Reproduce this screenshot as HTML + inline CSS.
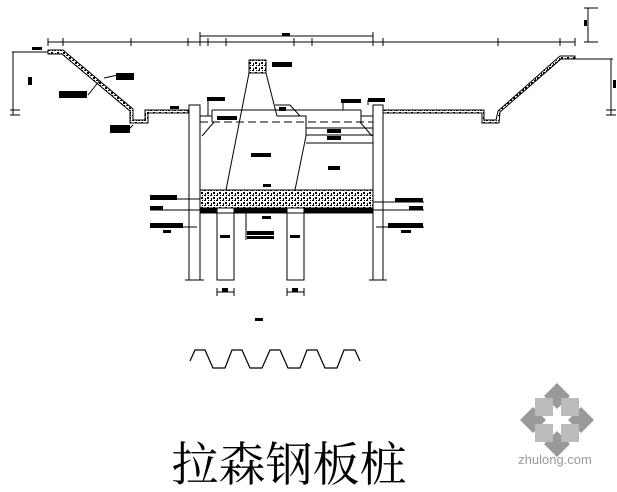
<!DOCTYPE html>
<html><head><meta charset="utf-8"><style>
html,body{margin:0;padding:0;background:#fff;width:617px;height:492px;overflow:hidden}
svg{display:block}
</style></head><body>
<svg width="617" height="492" viewBox="0 0 617 492" xmlns="http://www.w3.org/2000/svg">
<defs>
<pattern id="gr" width="6" height="5" patternUnits="userSpaceOnUse">
<rect width="6" height="5" fill="#fff"/>
<rect x="0" y="0" width="2" height="1" fill="#000"/><rect x="3" y="2" width="2" height="2" fill="#000"/><rect x="1" y="3" width="1" height="2" fill="#000"/><rect x="4" y="0" width="1" height="1" fill="#000"/>
</pattern>
</defs>
<g stroke="#000" stroke-width="1" fill="none">
<line x1="48" y1="42" x2="575" y2="42"/>
<line x1="200" y1="36" x2="373" y2="36"/>
<g>
<line x1="48" y1="38" x2="48" y2="46"/><line x1="63" y1="38" x2="63" y2="46"/><line x1="131" y1="38" x2="131" y2="46"/><line x1="188" y1="38" x2="188" y2="46"/><line x1="200" y1="32" x2="200" y2="46"/><line x1="208" y1="38" x2="208" y2="46"/><line x1="226" y1="38" x2="226" y2="46"/><line x1="294" y1="38" x2="294" y2="46"/><line x1="312" y1="38" x2="312" y2="46"/><line x1="373" y1="32" x2="373" y2="46"/><line x1="383" y1="38" x2="383" y2="46"/><line x1="498" y1="38" x2="498" y2="46"/><line x1="560" y1="38" x2="560" y2="46"/><line x1="575" y1="38" x2="575" y2="46"/>
</g>
<line x1="588" y1="8" x2="588" y2="42"/><line x1="584" y1="8" x2="598" y2="8"/><line x1="584" y1="42" x2="598" y2="42"/>
<line x1="12" y1="52" x2="63" y2="52"/>
<line x1="13" y1="52" x2="13" y2="115"/><line x1="10" y1="110" x2="20" y2="110"/><line x1="10" y1="115" x2="20" y2="115"/>
<polygon points="48,50 63,50 133,109 133,120 145,120 145,110 188,110 188,113 148,113 148,123 130,123 130,111 62,54 48,54" fill="url(#gr)"/>
<polygon points="383,110 484,110 484,120 496,120 498,111 560,56 575,56 575,59 561,59 500,112 499,123 482,123 482,113 383,113" fill="url(#gr)"/>
<line x1="560" y1="59" x2="613" y2="59"/>
<line x1="611" y1="59" x2="611" y2="115"/><line x1="606" y1="110" x2="616" y2="110"/><line x1="606" y1="115" x2="616" y2="115"/>
<rect x="189" y="105" width="11" height="175"/>
<rect x="373" y="105" width="10" height="175"/>
<line x1="185" y1="280" x2="204" y2="280"/><line x1="369" y1="280" x2="387" y2="280"/>
<line x1="200" y1="116" x2="212" y2="116"/><line x1="361" y1="116" x2="373" y2="116"/>
<line x1="212" y1="110" x2="361" y2="110"/><line x1="212" y1="110" x2="212" y2="122"/><line x1="361" y1="110" x2="361" y2="122"/>
<line x1="200" y1="122" x2="373" y2="122" stroke-dasharray="8,4"/>
<line x1="214" y1="122" x2="202" y2="136"/><line x1="360" y1="122" x2="372" y2="136"/>
<line x1="306" y1="128" x2="373" y2="128"/><line x1="306" y1="135" x2="373" y2="135"/><line x1="306" y1="143" x2="373" y2="143"/>
<rect x="249" y="60" width="17" height="13" fill="url(#gr)"/>
<line x1="249" y1="73" x2="226" y2="190"/>
<line x1="266" y1="73" x2="277" y2="116"/>
<polyline points="275,105 290,105 300,116"/>
<polyline points="277,116 306,116 306,136 295,190"/>
<rect x="200" y="190" width="173" height="18" fill="url(#gr)"/>
<rect x="200" y="208" width="173" height="5" fill="#000"/>
<rect x="217" y="208" width="17" height="72" fill="#fff"/>
<rect x="287" y="208" width="17" height="72" fill="#fff"/>
<line x1="217" y1="213" x2="234" y2="213"/><line x1="287" y1="213" x2="304" y2="213"/>
<line x1="217" y1="292" x2="234" y2="292"/><line x1="287" y1="292" x2="304" y2="292"/>
<line x1="217" y1="288" x2="217" y2="296"/><line x1="234" y1="288" x2="234" y2="296"/><line x1="287" y1="288" x2="287" y2="296"/><line x1="304" y1="288" x2="304" y2="296"/>
<line x1="150" y1="199" x2="200" y2="199"/><line x1="150" y1="210" x2="200" y2="210"/><line x1="150" y1="227" x2="197" y2="227"/>
<line x1="373" y1="202" x2="424" y2="202"/><line x1="373" y1="210" x2="424" y2="210"/><line x1="376" y1="227" x2="424" y2="227"/>
<line x1="246" y1="213" x2="246" y2="240"/>
<line x1="88" y1="95" x2="100" y2="80"/><line x1="104" y1="78" x2="118" y2="75"/>
<line x1="133" y1="125" x2="128" y2="130"/>
<line x1="208" y1="116" x2="208" y2="100"/><line x1="343" y1="110" x2="343" y2="102"/><line x1="368" y1="105" x2="368" y2="100"/>
<polyline points="190,361 195,350 205,350 213,368 225,368 232,350 242,350 250,368 262,368 270,350 280,350 288,368 300,368 307,350 317,350 325,368 337,368 344,350 355,350 360,361" stroke-width="1.2"/>
</g>
<g fill="#000">
<rect x="32" y="47" width="10" height="3"/><rect x="116" y="73" width="18" height="7"/><rect x="59" y="91" width="28" height="7"/><rect x="110" y="125" width="20" height="8"/>
<rect x="170" y="106" width="9" height="3"/><rect x="207" y="97" width="18" height="4"/><rect x="217" y="116" width="20" height="4"/>
<rect x="272" y="62" width="20" height="5"/><rect x="279" y="107" width="7" height="4"/><rect x="251" y="153" width="20" height="4"/>
<rect x="341" y="99" width="20" height="4"/><rect x="368" y="98" width="17" height="4"/><rect x="327" y="129" width="14" height="4"/><rect x="327" y="136" width="14" height="4"/><rect x="328" y="166" width="12" height="4"/>
<rect x="150" y="195" width="27" height="5"/><rect x="150" y="206" width="13" height="4"/><rect x="150" y="223" width="33" height="5"/><rect x="163" y="230" width="8" height="3"/>
<rect x="395" y="198" width="28" height="4"/><rect x="409" y="206" width="14" height="4"/><rect x="388" y="223" width="35" height="5"/><rect x="401" y="230" width="10" height="3"/>
<rect x="263" y="184" width="8" height="3"/><rect x="262" y="216" width="9" height="3"/><rect x="247" y="231" width="27" height="4"/><rect x="247" y="236" width="27" height="3"/>
<rect x="220" y="235" width="10" height="3"/><rect x="290" y="235" width="10" height="3"/>
<rect x="222" y="288" width="6" height="4"/><rect x="292" y="288" width="6" height="4"/>
<rect x="282" y="33" width="8" height="3"/>
<rect x="28" y="77" width="4" height="8"/><rect x="613" y="80" width="3" height="8"/><rect x="584" y="20" width="3" height="6"/>
<rect x="255" y="318" width="8" height="3"/>
</g>
<text x="289" y="481" font-family="'Liberation Sans','Noto Serif CJK SC',serif" font-size="47" text-anchor="middle" fill="#000">拉森钢板桩</text>
<g fill="#999">
<polygon points="557,383 570,396 557,409 544,396"/>
<polygon points="557,457 570,444 557,431 544,444"/>
<polygon points="520,420 533,407 546,420 533,433"/>
<polygon points="594,420 581,407 568,420 581,433"/>
<rect x="535" y="398" width="18" height="18" fill="#bbb"/><rect x="561" y="398" width="18" height="18" fill="#bbb"/>
<rect x="535" y="424" width="18" height="18" fill="#bbb"/><rect x="561" y="424" width="18" height="18" fill="#bbb"/>
</g>
<text x="555" y="464" font-family="'Liberation Sans',sans-serif" font-size="13" text-anchor="middle" fill="#999">zhulong.com</text>
</svg>
</body></html>
